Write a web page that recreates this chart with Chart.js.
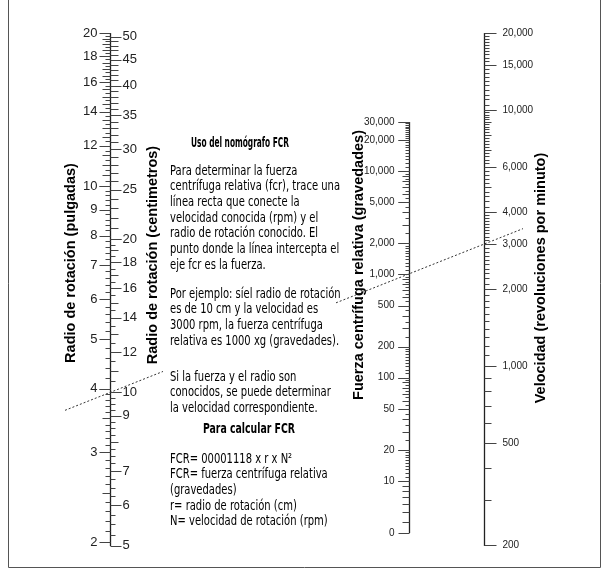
<!DOCTYPE html>
<html>
<head>
<meta charset="utf-8">
<script src="https://cdn.jsdelivr.net/npm/chart.js@4.4.0/dist/chart.umd.min.js"></script>
<style>
  html, body { margin: 0; padding: 0; background: #fff; }
</style>
</head>
<body>
<canvas id="nomografo" width="607" height="572"></canvas>
<script>
// radio de rotacion: pulgadas (izquierda) y centimetros (derecha) en el mismo eje
const inchLabels = [2, 3, 4, 5, 6, 7, 8, 9, 10, 12, 14, 16, 18, 20];
const inchSteps = [[2, 4, 0.1], [4, 10, 0.2], [10, 20, 0.25]];
const cmLabels = [5, 6, 7, 9, 10, 12, 14, 16, 18, 20, 25, 30, 35, 40, 45, 50];
const cmSteps = [[5, 10, 0.25], [10, 20, 0.5], [20, 50, 1]];

// fuerza centrifuga relativa (el tick inferior se rotula "0")
const fcrValues = [3.14, 10, 20, 50, 100, 200, 500, 1000, 2000, 5000, 10000, 20000, 30000];
const fcrLabels = ["0", "10", "20", "50", "100", "200", "500", "1,000", "2,000", "5,000", "10,000", "20,000", "30,000"];
const fcrSteps = [[4, 10, 1], [10, 20, 1], [20, 100, 5], [100, 200, 10], [200, 1000, 50],
  [1000, 2000, 100], [2000, 10000, 500], [10000, 30000, 1000]];

// velocidad (rpm)
const rpmLabels = [200, 500, 1000, 2000, 3000, 4000, 6000, 10000, 15000, 20000];
const rpmSteps = [[200, 4000, 100], [4000, 10000, 200], [10000, 20000, 500]];

// ejemplo del texto: 10 cm, 3000 rpm -> 1000 xg
const ejemplo = { cm: 10, rpm: 3000, fcr: 1000 };

const titulo1 = "Uso del nomógrafo FCR";
const parrafos = [
  ["Para determinar la fuerza", "centrífuga relativa (fcr), trace una", "línea recta que conecte la",
   "velocidad conocida (rpm) y el", "radio de rotación conocido. El", "punto donde la línea intercepta el",
   "eje fcr es la fuerza."],
  ["Por ejemplo: síel radio de rotación", "es de 10 cm y la velocidad es",
   "3000 rpm, la fuerza centrífuga", "relativa es 1000 xg (gravedades)."],
  ["Si la fuerza y el radio son", "conocidos, se puede determinar", "la velocidad correspondiente."],
];
const titulo2 = "Para calcular FCR";
const formula = ["FCR= 00001118 x r x N²", "FCR= fuerza centrífuga relativa", "(gravedades)",
  "r= radio de rotación (cm)", "N= velocidad de rotación (rpm)"];

const SANS = '"Liberation Sans", Arial, sans-serif';
const NARROW = '"Liberation Sans Narrow", "DejaVu Sans Condensed", sans-serif';

function stepTicks(ranges) {
  const out = [];
  ranges.forEach(([from, to, step]) => {
    const n = Math.round((to - from) / step);
    for (let i = 0; i <= n; i++) out.push(+(from + i * step).toFixed(4));
  });
  return out;
}

function mantissaIsInt(v) {
  const m = v / Math.pow(10, Math.floor(Math.log10(v) + 1e-9));
  return Math.abs(m - Math.round(m)) < 1e-6;
}

function drawTicks(ctx, scale, x, values, dir, lenFn) {
  values.forEach((v) => {
    const y = Math.round(scale.getPixelForValue(v)) + 0.5;
    ctx.beginPath();
    ctx.moveTo(x, y);
    ctx.lineTo(x + dir * lenFn(v), y);
    ctx.stroke();
  });
}

function drawLabels(ctx, scale, x, values, texts, align, font) {
  ctx.font = font;
  ctx.textAlign = align;
  ctx.textBaseline = "middle";
  values.forEach((v, i) => ctx.fillText(texts[i], x, scale.getPixelForValue(v)));
}

function drawTitle(ctx, text, x, y) {
  ctx.save();
  ctx.translate(x, y);
  ctx.rotate(-Math.PI / 2);
  ctx.font = "bold 14.5px " + SANS;
  ctx.textAlign = "center";
  ctx.textBaseline = "middle";
  ctx.fillText(text, 0, 0);
  ctx.restore();
}

const nomoPlugin = {
  id: "nomografo",
  afterDraw(chart) {
    const ctx = chart.ctx;
    const s = chart.scales;
    const radioX = Math.round(s.x.getPixelForValue(110)) + 0.5;
    const fcrX = Math.round(s.x.getPixelForValue(409)) + 0.5;
    const rpmX = Math.round(s.x.getPixelForValue(484)) + 0.5;

    ctx.save();
    // marco
    ctx.strokeStyle = "#555";
    ctx.lineWidth = 1;
    ctx.beginPath();
    ctx.moveTo(8.5, 0);
    ctx.lineTo(8.5, 567.5);
    ctx.lineTo(600.5, 567.5);
    ctx.lineTo(600.5, 0);
    ctx.stroke();

    // linea de ejemplo punteada
    const ax = radioX, ay = s.cm.getPixelForValue(ejemplo.cm);
    const bx = rpmX, by = s.rpm.getPixelForValue(ejemplo.rpm);
    const yAt = (x) => ay + (by - ay) * (x - ax) / (bx - ax);
    ctx.strokeStyle = "#333";
    ctx.setLineDash([2, 2]);
    [[65, 163], [336, 523]].forEach(([x0, x1]) => {
      ctx.beginPath();
      ctx.moveTo(x0, yAt(x0));
      ctx.lineTo(x1, yAt(x1));
      ctx.stroke();
    });
    ctx.setLineDash([]);

    // eje radio
    ctx.strokeStyle = "#222";
    ctx.lineWidth = 1.3;
    ctx.beginPath();
    ctx.moveTo(radioX, s.inch.getPixelForValue(20));
    ctx.lineTo(radioX, s.cm.getPixelForValue(5) + 0.5);
    ctx.stroke();
    ctx.lineWidth = 1;
    ctx.strokeStyle = "#444";
    drawTicks(ctx, s.inch, radioX, stepTicks(inchSteps), -1,
      (v) => inchLabels.includes(v) ? 11 : (Number.isInteger(v * 2) ? 8 : 5));
    drawTicks(ctx, s.cm, radioX, stepTicks(cmSteps), 1,
      (v) => cmLabels.includes(v) ? 11 : (Number.isInteger(v) ? 8 : 5));

    // eje fcr
    ctx.strokeStyle = "#222";
    ctx.lineWidth = 1.3;
    ctx.beginPath();
    ctx.moveTo(fcrX, s.fcr.getPixelForValue(fcrValues[fcrValues.length - 1]));
    ctx.lineTo(fcrX, s.fcr.getPixelForValue(fcrValues[0]));
    ctx.stroke();
    ctx.lineWidth = 1;
    ctx.strokeStyle = "#444";
    drawTicks(ctx, s.fcr, fcrX, stepTicks(fcrSteps).concat(fcrValues), -1,
      (v) => fcrValues.includes(v) ? 11 : (mantissaIsInt(v) ? 7 : 4));

    // eje rpm
    ctx.strokeStyle = "#222";
    ctx.lineWidth = 1.3;
    ctx.beginPath();
    ctx.moveTo(rpmX, s.rpm.getPixelForValue(20000));
    ctx.lineTo(rpmX, s.rpm.getPixelForValue(200) + 1);
    ctx.stroke();
    ctx.lineWidth = 1;
    ctx.strokeStyle = "#444";
    drawTicks(ctx, s.rpm, rpmX, stepTicks(rpmSteps), 1,
      (v) => rpmLabels.includes(v) ? 12 : (mantissaIsInt(v) ? 7 : 5));

    // rotulos
    ctx.fillStyle = "#222";
    drawLabels(ctx, s.inch, radioX - 13, inchLabels, inchLabels.map(String), "right", "13px " + SANS);
    drawLabels(ctx, s.cm, radioX + 12, cmLabels, cmLabels.map(String), "left", "13px " + SANS);
    drawLabels(ctx, s.fcr, fcrX - 15, fcrValues, fcrLabels, "right", "10px " + SANS);
    drawLabels(ctx, s.rpm, rpmX + 18, rpmLabels, rpmLabels.map((v) => v.toLocaleString("en-US")), "left", "10px " + SANS);

    ctx.fillStyle = "#000";
    drawTitle(ctx, "Radio de rotación (pulgadas)", 71, 263);
    drawTitle(ctx, "Radio de rotación (centimetros)", 153, 255);
    drawTitle(ctx, "Fuerza centrífuga relativa (gravedades)", 359, 265);
    drawTitle(ctx, "Velocidad (revoluciones por minuto)", 541, 278);

    // bloque de texto
    const size = "14px ";
    const line = (text, x, y, bold, align, width) => {
      ctx.save();
      ctx.font = (bold ? "bold " : "") + size + NARROW;
      const squeeze = width / ctx.measureText(text).width;
      ctx.translate(x, y);
      ctx.scale(squeeze, 1);
      ctx.textAlign = align;
      ctx.textBaseline = "middle";
      ctx.fillText(text, 0, 0);
      ctx.restore();
    };
    ctx.font = size + NARROW;
    const bodyWidth = 170 / ctx.measureText(parrafos[0][1]).width;
    const body = (text, y) => {
      ctx.font = size + NARROW;
      line(text, 170, y, false, "left", ctx.measureText(text).width * bodyWidth);
    };
    const lh = 15.7;
    line(titulo1, 240, 143, true, "center", 98);
    [171, 294, 377].forEach((y0, p) => {
      parrafos[p].forEach((t, i) => body(t, y0 + i * lh));
    });
    line(titulo2, 249, 429, true, "center", 92);
    formula.forEach((t, i) => body(t, 459 + i * lh));
    ctx.restore();
  },
};

new Chart(document.getElementById("nomografo"), {
  type: "scatter",
  data: { datasets: [] },
  options: {
    responsive: false,
    animation: false,
    layout: { padding: { top: 33, bottom: 27, left: 0, right: 0 } },
    plugins: { legend: { display: false }, tooltip: { enabled: false } },
    scales: {
      x: { type: "linear", min: 0, max: 607, display: false },
      inch: { type: "logarithmic", axis: "y", min: 1.973, max: 20, display: false, bounds: "data" },
      cm: { type: "logarithmic", axis: "y", min: 1.973 * 2.54, max: 50.8, display: false, bounds: "data" },
      fcr: { type: "logarithmic", axis: "y", min: 2.4, max: 218000, display: false, bounds: "data" },
      rpm: { type: "logarithmic", axis: "y", min: 200, max: 20000, display: false, bounds: "data" },
    },
  },
  plugins: [nomoPlugin],
});
</script>
</body>
</html>
